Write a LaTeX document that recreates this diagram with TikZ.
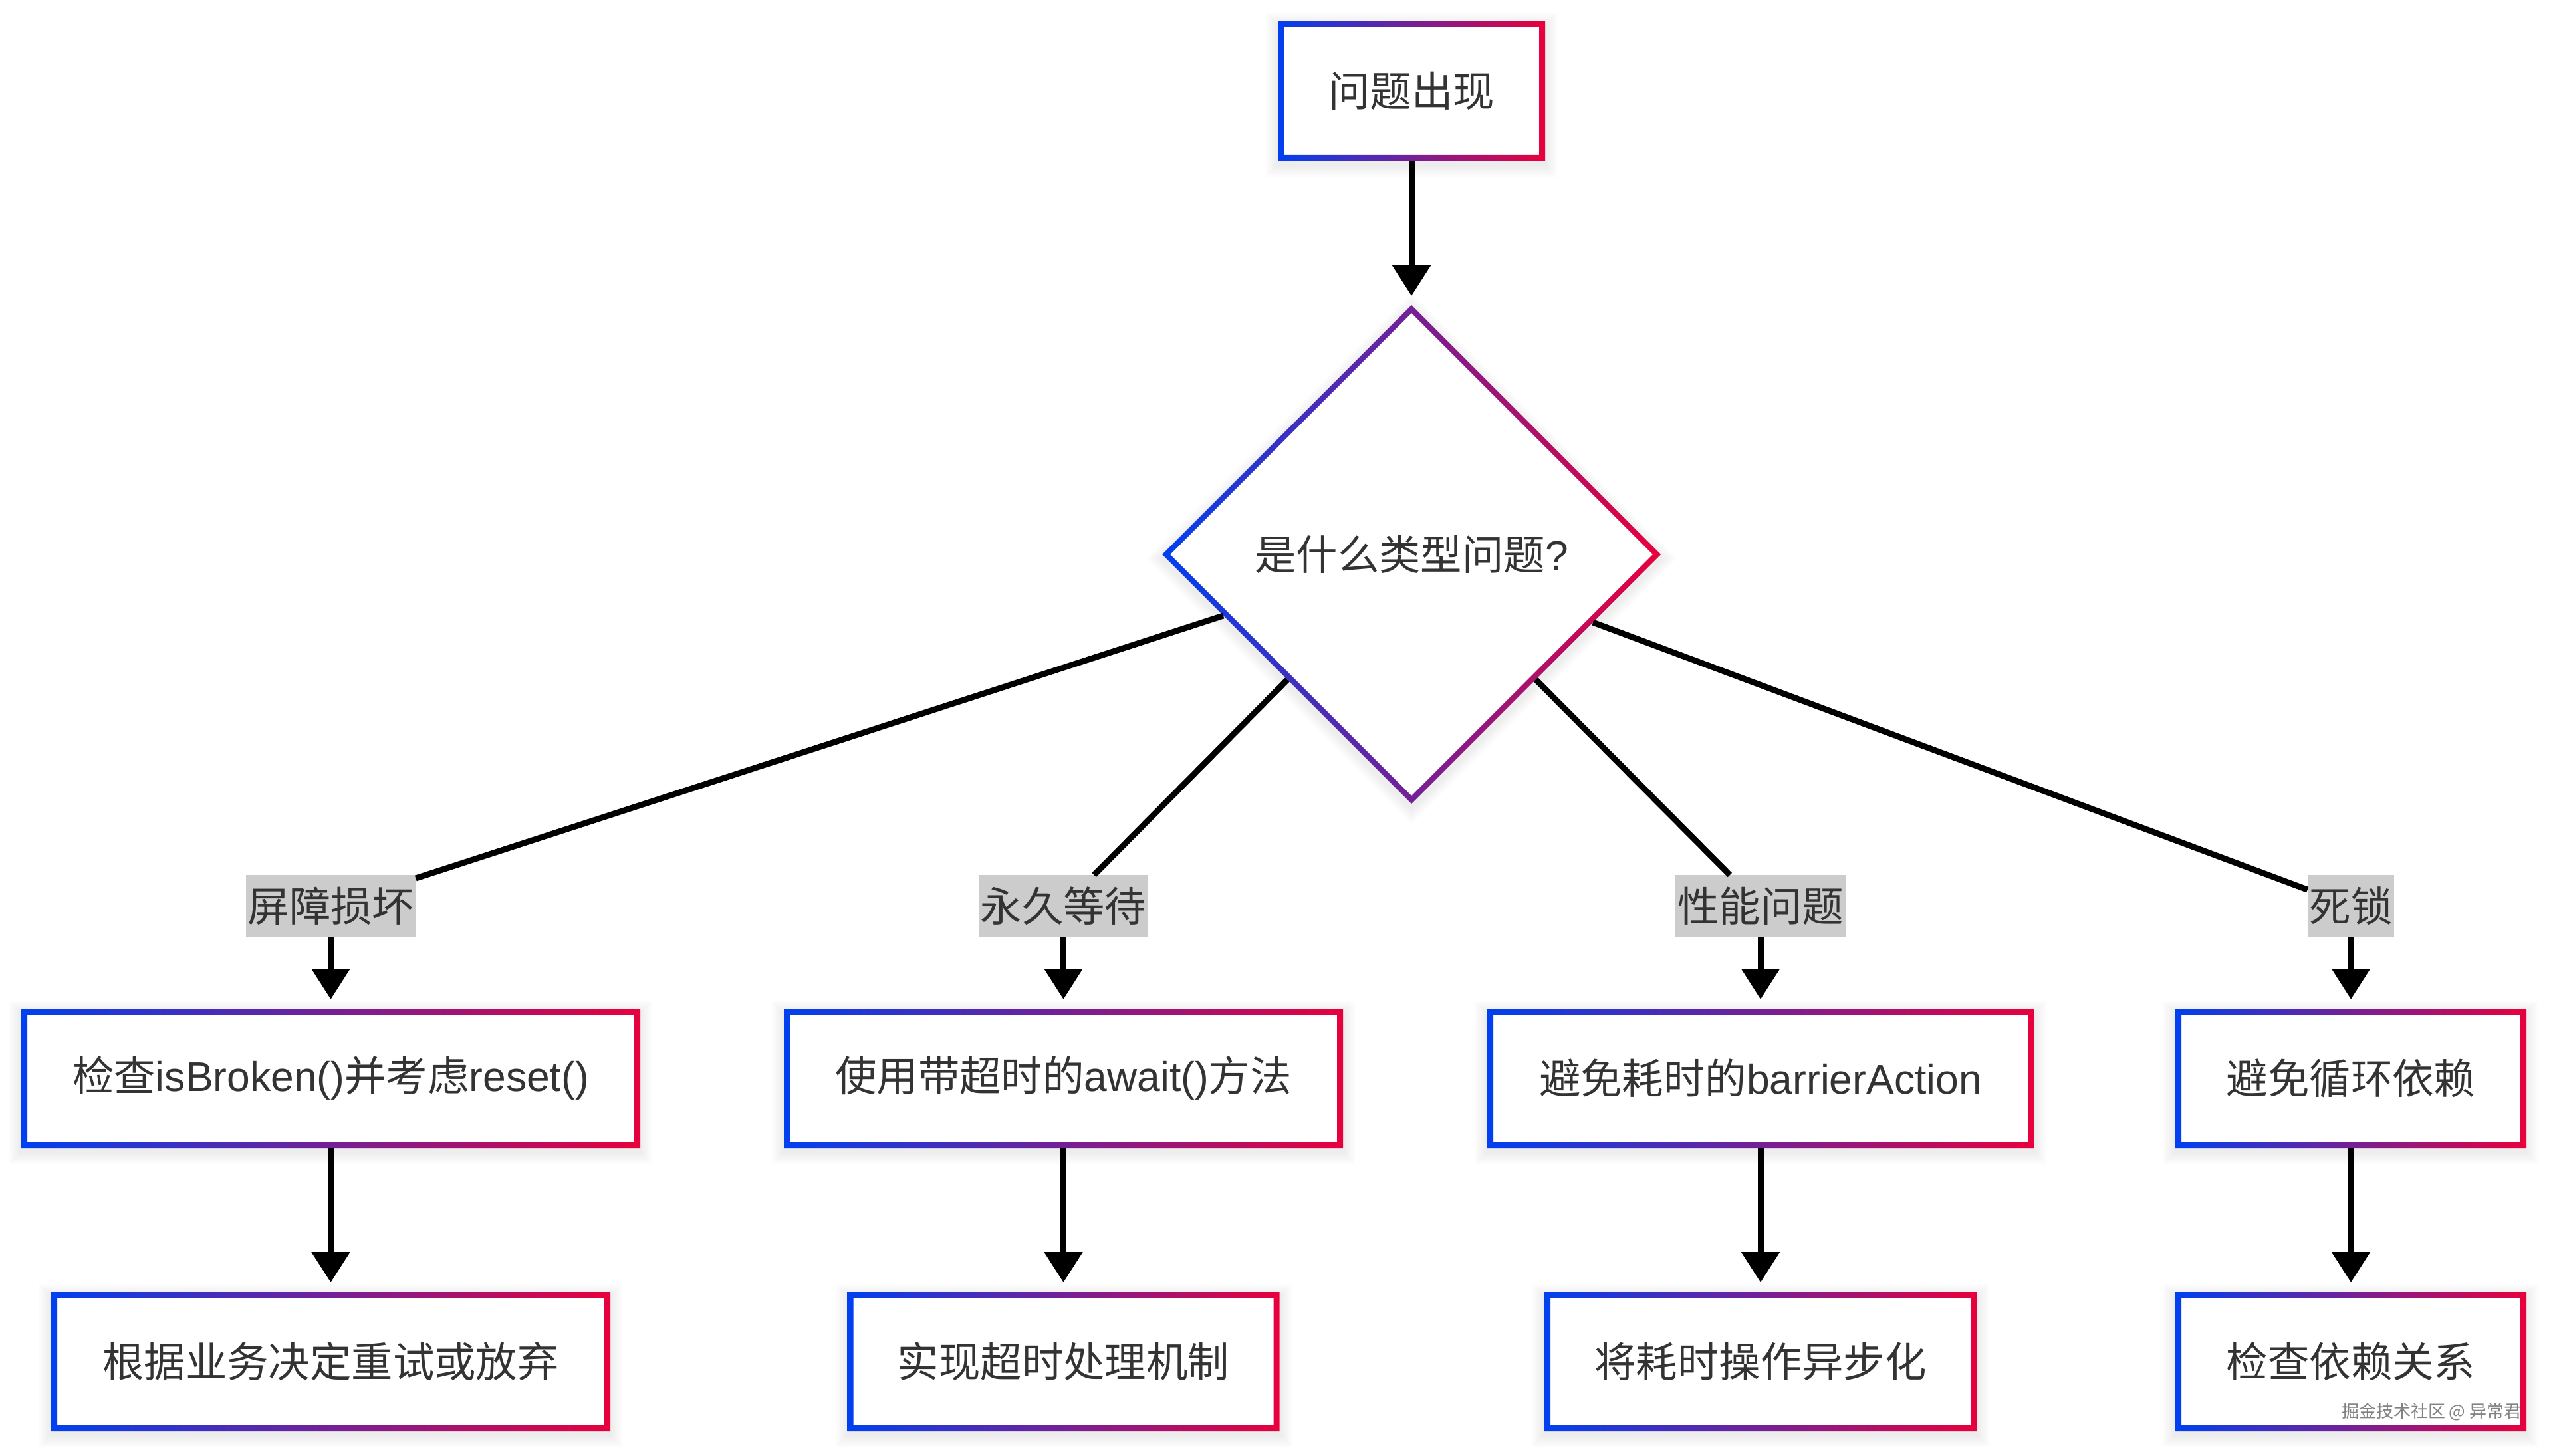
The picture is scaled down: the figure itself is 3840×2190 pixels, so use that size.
\documentclass[tikz,border=0pt]{standalone}
\usepackage{fontspec}
\setmainfont{Liberation Sans}
\newfontfamily\cjk{Noto Sans CJK SC}
\usetikzlibrary{shapes.geometric, arrows.meta, calc}
\newlength\pxu \setlength\pxu{0.25pt}
\definecolor{gl}{RGB}{0,64,240}
\definecolor{gr}{RGB}{232,0,60}
\definecolor{txt}{RGB}{51,51,51}
\definecolor{labgray}{RGB}{204,204,204}
\definecolor{wmgray}{RGB}{130,130,130}
\pgfdeclarelayer{background}
\pgfsetlayers{background,main}
\newcommand\nf{\fontsize{15.6pt}{18.5pt}\selectfont}
\begin{document}
\begin{tikzpicture}[x=0.25pt, y=-0.25pt,
  box/.style={rectangle, fill=white, inner sep=0pt, outer sep=0pt, minimum height=210*\pxu, minimum width=#1*\pxu, text=txt, font=\nf},
  dia/.style={diamond, aspect=1, fill=white, inner sep=0pt, outer sep=0pt, minimum width=750*\pxu, minimum height=750*\pxu, text=txt, font=\nf},
  elabel/.style={rectangle, fill=labgray, inner xsep=3*\pxu, inner ysep=0pt, minimum height=93*\pxu, outer sep=0pt, text=txt, font=\nf\cjk},
  ln/.style={draw=black, line width=2.25pt},
  arr/.style={ln, -{Triangle[length=11.5pt, width=14pt]}, shorten >=3.5pt},
  ring/.style={left color=gl, right color=gr, even odd rule},
]
\useasboundingbox (0,0) rectangle (3840,2190);

% nodes
\node[box=402] (top) at (2123,137) {\cjk 问题出现};
\node[dia] (q) at (2123,834) {{\cjk 是什么类型问题}?};

\node[elabel] (la) at (497.5,1362.5) {屏障损坏};
\node[elabel] (lb) at (1599.5,1362.5) {永久等待};
\node[elabel] (lc) at (2648,1362.5) {性能问题};
\node[elabel] (ld) at (3536,1362.5) {死锁};

\node[box=931] (a2) at (497.5,1622) {{\cjk 检查}isBroken(){\cjk 并考虑}reset()};
\node[box=841] (b2) at (1599.5,1622) {{\cjk 使用带超时的}await(){\cjk 方法}};
\node[box=822] (c2) at (2648,1622) {{\cjk 避免耗时的}barrierAction};
\node[box=528] (d2) at (3536,1622) {\cjk 避免循环依赖};

\node[box=841] (a3) at (497.5,2048) {\cjk 根据业务决定重试或放弃};
\node[box=650] (b3) at (1599.5,2048) {\cjk 实现超时处理机制};
\node[box=650] (c3) at (2648,2048) {\cjk 将耗时操作异步化};
\node[box=528] (d3) at (3536,2048) {\cjk 检查依赖关系};

% gradient borders
\foreach \n in {top,a2,b2,c2,d2,a3,b3,c3,d3} {
  \shade[ring] (\n.south west) rectangle (\n.north east)
    ($(\n.south west)+(9,-9)$) rectangle ($(\n.north east)+(-9,9)$);
}
\shade[ring] (q.north) -- (q.east) -- (q.south) -- (q.west) -- cycle
  ($(q.north)+(0,12)$) -- ($(q.east)+(-12,0)$) -- ($(q.south)+(0,-12)$) -- ($(q.west)+(12,0)$) -- cycle;

% connectors
\draw[arr] (top) -- (q);
\foreach \c in {a,b,c,d} {
  \draw[ln] (q) -- (l\c);
  \draw[arr] (l\c) -- (\c2);
  \draw[arr] (\c2) -- (\c3);
}

% watermark
\node[anchor=south east, inner sep=0pt, font=\cjk\fontsize{6.5pt}{7pt}\selectfont, text=wmgray] (wm) at (3793,2138) {掘金技术社区 @ 异常君};

% shadows and background
\begin{pgfonlayer}{background}
  \fill[white] (0,0) rectangle (3840,2190);
  \foreach \n in {top,a2,b2,c2,d2,a3,b3,c3,d3} {
    \foreach \k in {1,...,6} {
      \fill[black, opacity=0.01] ($(\n.south west)+(-3*\k,3*\k+6)$) rectangle ($(\n.north east)+(3*\k,-3*\k+6)$);
    }
  }
  \foreach \k in {1,...,6} {
    \fill[black, opacity=0.01] ($(q.north)+(0,-4*\k+6)$) -- ($(q.east)+(4*\k,6)$) -- ($(q.south)+(0,4*\k+6)$) -- ($(q.west)+(-4*\k,6)$) -- cycle;
  }
\end{pgfonlayer}
\end{tikzpicture}
\end{document}
